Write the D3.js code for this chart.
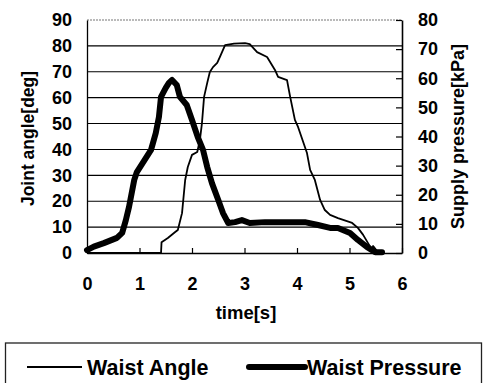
<!DOCTYPE html>
<html><head><meta charset="utf-8">
<script src="https://cdn.jsdelivr.net/npm/d3@7"></script>
<style>
html,body{margin:0;padding:0;background:#fff;}
svg{display:block;}
text{font-family:"Liberation Sans",Arial,sans-serif;font-weight:bold;fill:#000;}
</style></head>
<body>
<svg id="chart" width="489" height="383"></svg>
<script>
// Waist Angle [deg] (left axis)
const angleTime = [0, 1.0, 1.41, 1.42, 1.54, 1.68, 1.73, 1.81, 1.87, 1.92, 2.00, 2.10, 2.15, 2.19, 2.23, 2.29, 2.34, 2.40, 2.48, 2.53, 2.63, 2.80, 3.01, 3.10, 3.24, 3.43, 3.58, 3.64, 3.81, 3.87, 3.96, 4.02, 4.19, 4.25, 4.34, 4.44, 4.53, 4.63, 4.78, 5.05, 5.16, 5.26, 5.35, 5.43, 5.45, 5.54];
const angleVals = [0, 0, 0, 4.2, 5.8, 8.1, 8.9, 15.4, 28.2, 33.2, 37.9, 39.0, 43.6, 50.2, 60.3, 65.7, 69.9, 71.8, 73.4, 75.7, 80.3, 80.9, 81.1, 80.7, 77.6, 75.7, 70.7, 68.0, 66.8, 60.3, 51.4, 48.7, 38.6, 32.1, 28.2, 20.5, 16.6, 14.7, 13.5, 11.6, 9.7, 7.0, 3.9, 1.2, 2.7, 0.4];
// Waist Pressure [kPa] (right axis)
const pressTime = [0.0, 0.13, 0.32, 0.57, 0.67, 0.74, 0.80, 0.90, 0.95, 1.12, 1.22, 1.31, 1.37, 1.41, 1.50, 1.56, 1.62, 1.71, 1.77, 1.90, 2.00, 2.11, 2.21, 2.29, 2.38, 2.50, 2.59, 2.69, 2.82, 2.95, 3.10, 3.39, 4.15, 4.40, 4.63, 4.78, 5.01, 5.16, 5.33, 5.49, 5.62];
const pressVals = [1.0, 2.2, 3.4, 5.2, 6.9, 11.3, 15.8, 25.1, 27.8, 32.6, 35.4, 41.2, 46.7, 53.6, 56.7, 58.4, 59.4, 57.7, 53.6, 50.8, 45.7, 39.8, 35.4, 29.5, 24.0, 18.2, 13.7, 10.3, 10.6, 11.3, 10.3, 10.6, 10.6, 9.6, 8.6, 8.6, 6.9, 4.5, 2.1, 0.3, 0.3];

const xTicks = [0, 1, 2, 3, 4, 5, 6];
const leftTicks = [0, 10, 20, 30, 40, 50, 60, 70, 80, 90];
const rightTicks = [0, 10, 20, 30, 40, 50, 60, 70, 80];
const seriesNames = ["Waist Angle", "Waist Pressure"];

const svg = d3.select("#chart");
const L = 87, R = 402, T = 20, B = 253;
const x = d3.scaleLinear().domain([0, 6]).range([L, R]);
const yL = d3.scaleLinear().domain([0, 90]).range([B, T]);
const yR = d3.scaleLinear().domain([0, 80]).range([B, T]);

// gridlines
svg.append("g").selectAll("line").data(leftTicks.filter(d => d > 0 && d < 90)).join("line")
  .attr("x1", L).attr("x2", R).attr("y1", d => yL(d)).attr("y2", d => yL(d))
  .attr("stroke", "#000").attr("stroke-width", 1.1);
// top border (dotted grey)
svg.append("line").attr("x1", L).attr("x2", R).attr("y1", T).attr("y2", T)
  .attr("stroke", "#777").attr("stroke-width", 1.2).attr("stroke-dasharray", "2,1");

// bottom axis
const xAxis = svg.append("g").attr("transform", `translate(0,${B})`)
  .call(d3.axisBottom(x).tickValues(xTicks).tickFormat(d3.format("d")).tickSizeInner(-5).tickSizeOuter(0).tickPadding(24));
xAxis.select(".domain").attr("stroke", "#000").attr("stroke-width", 1.6);
xAxis.selectAll("text").attr("font-size", 18);
xAxis.selectAll(".tick line").attr("stroke-width", 1.2);

// left axis
const lAxis = svg.append("g").attr("transform", `translate(${L},0)`)
  .call(d3.axisLeft(yL).tickValues(leftTicks).tickSizeInner(0).tickSizeOuter(0).tickPadding(15));
lAxis.select(".domain").attr("stroke", "#000").attr("stroke-width", 1.3);
lAxis.selectAll("text").attr("font-size", 18);

// right axis
const rAxis = svg.append("g").attr("transform", `translate(${R},0)`)
  .call(d3.axisRight(yR).tickValues(rightTicks).tickSizeInner(-6).tickSizeOuter(0).tickPadding(16));
rAxis.select(".domain").attr("stroke", "#000").attr("stroke-width", 1.6);
rAxis.selectAll("text").attr("font-size", 18);
rAxis.selectAll(".tick line").attr("stroke-width", 1.2);

// series
const angleData = angleTime.map((t, i) => [t, angleVals[i]]);
const pressData = pressTime.map((t, i) => [t, pressVals[i]]);
svg.append("path").datum(angleData)
  .attr("d", d3.line().x(d => x(d[0])).y(d => yL(d[1])))
  .attr("fill", "none").attr("stroke", "#000").attr("stroke-width", 1.8).attr("stroke-linejoin", "round");
svg.append("path").datum(pressData)
  .attr("d", d3.line().x(d => x(d[0])).y(d => yR(d[1])))
  .attr("fill", "none").attr("stroke", "#000").attr("stroke-width", 6).attr("stroke-linejoin", "round").attr("stroke-linecap", "round");

// axis titles
svg.append("text").attr("transform", `translate(34,${(70 + 207) / 2}) rotate(-90)`)
  .attr("text-anchor", "middle").attr("font-size", 17.5).text("Joint angle[deg]");
svg.append("text").attr("transform", `translate(464,${(43 + 230) / 2}) rotate(-90)`)
  .attr("text-anchor", "middle").attr("font-size", 18).text("Supply pressure[kPa]");
svg.append("text").attr("x", 246).attr("y", 319)
  .attr("text-anchor", "middle").attr("font-size", 18.5).text("time[s]");

// legend
svg.append("rect").attr("x", 5.5).attr("y", 343).attr("width", 476).attr("height", 60)
  .attr("fill", "none").attr("stroke", "#222").attr("stroke-width", 1.3);
const lg = svg.append("g");
lg.append("line").attr("x1", 27).attr("x2", 82).attr("y1", 367).attr("y2", 367)
  .attr("stroke", "#000").attr("stroke-width", 1.8);
lg.append("text").attr("x", 87).attr("y", 375).attr("font-size", 21.5).text(seriesNames[0]);
lg.append("line").attr("x1", 249).attr("x2", 305).attr("y1", 367).attr("y2", 367)
  .attr("stroke", "#000").attr("stroke-width", 6).attr("stroke-linecap", "round");
lg.append("text").attr("x", 307).attr("y", 375).attr("font-size", 21.5).text(seriesNames[1]);
</script>
</body></html>
